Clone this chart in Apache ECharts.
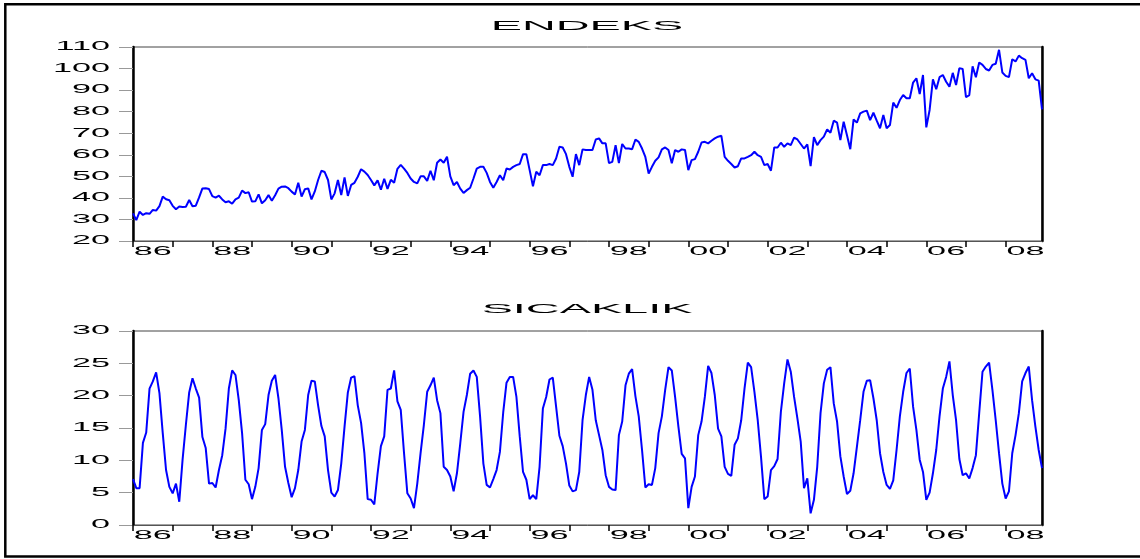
<!DOCTYPE html>
<html>
<head>
<meta charset="utf-8">
<script src="https://cdn.jsdelivr.net/npm/echarts@6/dist/echarts.min.js"></script>
<style>
html,body{margin:0;padding:0;background:#fff;}
#chart{width:1140px;height:559px;}
</style>
</head>
<body>
<div id="chart"></div>
<script>
// ---- data (monthly, Jan 1986 - Dec 2008) ----
const years = [1986,1987,1988,1989,1990,1991,1992,1993,1994,1995,1996,1997,1998,1999,2000,2001,2002,2003,2004,2005,2006,2007,2008];
const monthCodes = ['01','02','03','04','05','06','07','08','09','10','11','12'];
const xTickLabels = ['86','88','90','92','94','96','98','00','02','04','06','08'];
const titles = ['ENDEKS','SICAKLIK'];

const endeks = [
 32.8,29.7,33.6,32.1,32.9,32.6,34.4,34.1,36.2,40.6,39.4,38.9,
 36.3,34.7,36.0,35.8,35.9,39.0,36.1,36.4,40.2,44.4,44.5,44.1,
 40.8,40.1,41.0,39.3,38.0,38.4,37.3,39.3,40.1,43.4,42.2,42.6,
 38.3,38.4,41.6,37.5,38.9,41.3,38.7,41.2,44.3,45.2,45.3,44.5,
 42.9,41.6,47.0,40.6,44.0,44.4,39.3,43.0,48.3,52.6,52.0,48.3,
 39.3,42.1,48.3,41.3,49.5,40.9,46.0,47.0,49.8,53.3,52.2,50.6,
 48.3,45.8,48.1,43.8,48.9,44.2,48.4,47.0,53.5,55.3,53.6,51.6,
 49.0,47.4,46.7,50.0,50.0,47.9,52.6,48.2,56.3,57.8,56.3,59.1,
 50.0,45.9,47.4,44.3,42.3,43.6,44.7,49.0,53.6,54.4,54.4,51.6,
 47.4,44.7,47.4,50.5,48.2,53.6,53.2,54.4,55.2,55.7,60.3,60.3,
 52.9,45.4,52.1,50.5,55.2,55.2,55.7,55.2,58.3,63.7,63.4,60.3,
 54.4,49.8,60.3,55.2,62.5,62.2,62.2,62.2,67.1,67.6,65.3,65.3,
 56.1,56.7,64.5,56.1,65.0,62.9,62.9,62.6,67.1,66.0,62.9,59.0,
 51.3,54.4,57.2,58.8,62.5,63.4,62.2,56.1,62.2,61.4,62.5,62.2,
 52.9,57.5,58.0,61.4,65.7,66.0,65.3,66.5,67.6,68.4,68.8,59.0,
 57.2,55.7,54.1,54.7,58.3,58.3,59.0,59.8,61.4,59.8,59.0,55.2,
 55.7,52.6,63.4,63.4,65.6,63.7,65.3,64.5,68.0,67.1,65.0,62.9,
 64.8,54.7,68.2,64.5,66.8,68.4,71.8,70.2,75.8,74.9,66.8,75.3,
 69.1,62.6,76.4,74.9,79.2,80.0,80.5,76.1,79.5,75.8,72.3,78.5,
 72.3,73.8,84.2,81.8,85.4,87.7,86.2,86.2,93.5,95.5,88.2,97.0,
 72.7,80.8,95.0,90.4,96.0,97.0,93.9,91.6,98.0,92.4,100.2,99.8,
 86.7,87.7,101.0,96.0,102.8,101.7,99.8,99.1,101.7,102.2,108.7,98.2,
 96.6,96.0,104.3,103.3,106.0,104.8,104.0,95.5,97.8,95.0,94.4,81.1
];

const sicaklik = [
 7.1,5.7,5.7,12.7,14.3,21.1,22.2,23.6,20.4,14.2,8.5,5.9,
 4.9,6.4,3.6,10.1,15.5,20.5,22.7,21.1,19.7,13.6,11.9,6.4,
 6.5,5.8,8.5,10.8,14.9,21.1,23.9,23.2,19.3,14.2,7.0,6.3,
 4.0,5.9,8.8,14.7,15.6,20.1,22.3,23.2,19.6,14.7,9.0,6.5,
 4.3,5.7,8.5,12.9,14.7,20.1,22.3,22.2,18.5,15.3,13.7,8.5,
 5.0,4.4,5.4,9.5,15.2,20.5,22.8,23.0,18.5,15.8,11.1,4.0,
 3.9,3.2,8.0,12.2,13.7,20.9,21.1,23.9,19.1,17.8,11.1,4.9,
 4.1,2.6,6.4,11.1,15.5,20.6,21.6,22.8,19.3,17.3,9.0,8.5,
 7.5,5.2,8.0,12.6,17.5,20.1,23.4,23.9,22.9,16.8,9.5,6.2,
 5.8,7.1,8.5,11.3,17.4,22.0,22.9,22.9,19.8,13.7,8.2,7.0,
 4.0,4.6,4.0,9.0,18.0,19.8,22.5,22.8,18.3,13.8,12.2,9.5,
 6.1,5.2,5.4,8.2,16.2,20.1,22.9,20.9,16.2,13.9,11.6,7.7,
 5.9,5.5,5.4,13.9,16.0,21.6,23.4,24.1,19.9,16.8,11.6,5.8,
 6.3,6.2,8.8,14.2,16.8,20.9,24.4,23.9,19.8,15.2,11.0,10.3,
 2.6,5.9,7.5,13.9,16.0,19.8,24.6,23.5,20.1,14.9,13.7,9.0,
 7.9,7.6,12.4,13.4,16.2,21.1,25.1,24.4,20.6,16.2,10.5,4.0,
 4.4,8.5,9.1,10.2,17.5,21.9,25.6,23.7,19.8,16.5,12.9,5.7,
 7.2,1.8,3.9,9.0,17.3,21.9,24.0,24.4,18.8,16.0,10.6,7.5,
 4.8,5.3,8.0,12.1,16.2,20.6,22.3,22.4,19.6,16.2,11.1,8.2,
 6.2,5.6,6.9,11.6,16.8,20.6,23.5,24.2,18.3,14.7,10.1,8.2,
 3.9,5.0,8.0,11.6,16.8,21.1,22.9,25.3,20.1,16.2,10.2,7.7,
 8.0,7.2,8.8,10.8,17.3,23.7,24.5,25.1,20.9,16.2,11.1,6.4,
 4.1,5.2,11.1,13.9,17.3,22.2,23.5,24.5,19.3,15.2,11.6,8.8
];

const months = [];
years.forEach(y => monthCodes.forEach(m => months.push(y + 'M' + m)));

// ---- chart ----
const FONT = '"Liberation Sans", Arial, sans-serif';
const chart = echarts.init(document.getElementById('chart'), null, {renderer: 'canvas'});

function xAxisCfg(gi) {
  return {
    type: 'category', gridIndex: gi, data: months, boundaryGap: false,
    axisLine: {show: true, lineStyle: {color: '#555', width: 1}},
    axisTick: {show: true, interval: (i) => i % 12 === 0, length: 6, inside: false,
               lineStyle: {color: '#000', width: 1.5}},
    axisLabel: {interval: (i) => i % 24 === 6,
                formatter: (v, i) => xTickLabels[Math.floor(i / 24)],
                margin: 5, fontSize: 12, color: '#000', fontFamily: FONT},
    splitLine: {show: false}
  };
}
function yLeft(gi, min, max, step) {
  return {
    type: 'value', gridIndex: gi, position: 'left', min: min, max: max, interval: step,
    axisLine: {show: true, onZero: false, lineStyle: {color: '#000', width: 2.5}},
    axisTick: {show: true, length: 14, lineStyle: {color: '#999', width: 1}},
    axisLabel: {margin: 23, fontSize: 12, color: '#000', fontFamily: FONT},
    splitLine: {show: false}
  };
}
function yRight(gi, min, max, step) {
  return {
    type: 'value', gridIndex: gi, position: 'right', min: min, max: max, interval: step,
    axisLine: {show: true, onZero: false, lineStyle: {color: '#000', width: 2.5}},
    axisTick: {show: false}, axisLabel: {show: false}, splitLine: {show: false}
  };
}

const option = {
  animation: false,
  backgroundColor: '#fff',
  title: [
    {text: titles[0], left: 587, top: 21, textAlign: 'center', padding: 0,
     textStyle: {fontSize: 12, fontWeight: 'normal', color: '#000', fontFamily: FONT}},
    {text: titles[1], left: 587, top: 304, textAlign: 'center', padding: 0,
     textStyle: {fontSize: 12, fontWeight: 'normal', color: '#000', fontFamily: FONT}}
  ],
  grid: [
    {left: 133, top: 47, width: 909, height: 194, show: true, borderColor: '#444', borderWidth: 1, backgroundColor: '#fff'},
    {left: 133, top: 331, width: 909, height: 194, show: true, borderColor: '#444', borderWidth: 1, backgroundColor: '#fff'}
  ],
  xAxis: [xAxisCfg(0), xAxisCfg(1)],
  yAxis: [yLeft(0, 20, 110, 10), yRight(0, 20, 110, 10), yLeft(1, 0, 30, 5), yRight(1, 0, 30, 5)],
  series: [
    {type: 'line', name: titles[0], xAxisIndex: 0, yAxisIndex: 0, data: endeks, symbol: 'none',
     lineStyle: {color: '#0000ff', width: 2}, itemStyle: {color: '#0000ff'}},
    {type: 'line', name: titles[1], xAxisIndex: 1, yAxisIndex: 2, data: sicaklik, symbol: 'none',
     lineStyle: {color: '#0000ff', width: 2}, itemStyle: {color: '#0000ff'}}
  ],
  graphic: [
    {type: 'rect', silent: true, z: 100,
     shape: {x: 5.3, y: 4.2, width: 1160, height: 552.3},
     style: {fill: 'none', stroke: '#000', lineWidth: 2.5}}
  ]
};
chart.setOption(option);

// Stretch the text horizontally, like the wide lettering of the original output.
function stretchTexts() {
  try {
    const zr = chart.getZr();
    const visit = (el) => {
      if (el.type === 'text' && !el.__stretched && el.style && el.style.text != null) {
        const isTitle = titles.indexOf(String(el.style.text)) >= 0;
        const k = isTitle ? 3.9 : 2.85;
        const r = el.getBoundingRect();
        const align = el.style.align;
        el.originX = align === 'right' ? r.x + r.width : r.x + r.width / 2;
        el.originY = r.y + r.height / 2;
        el.scaleX = (el.scaleX || 1) * k;
        el.__stretched = true;
        el.markRedraw && el.markRedraw();
      }
    };
    zr.storage.getRoots().forEach(root => {
      if (root.traverse) root.traverse(visit); else visit(root);
    });
    zr.refresh();
  } catch (e) { console.log(e); }
}
stretchTexts();
chart.on('finished', stretchTexts);
</script>
</body>
</html>
